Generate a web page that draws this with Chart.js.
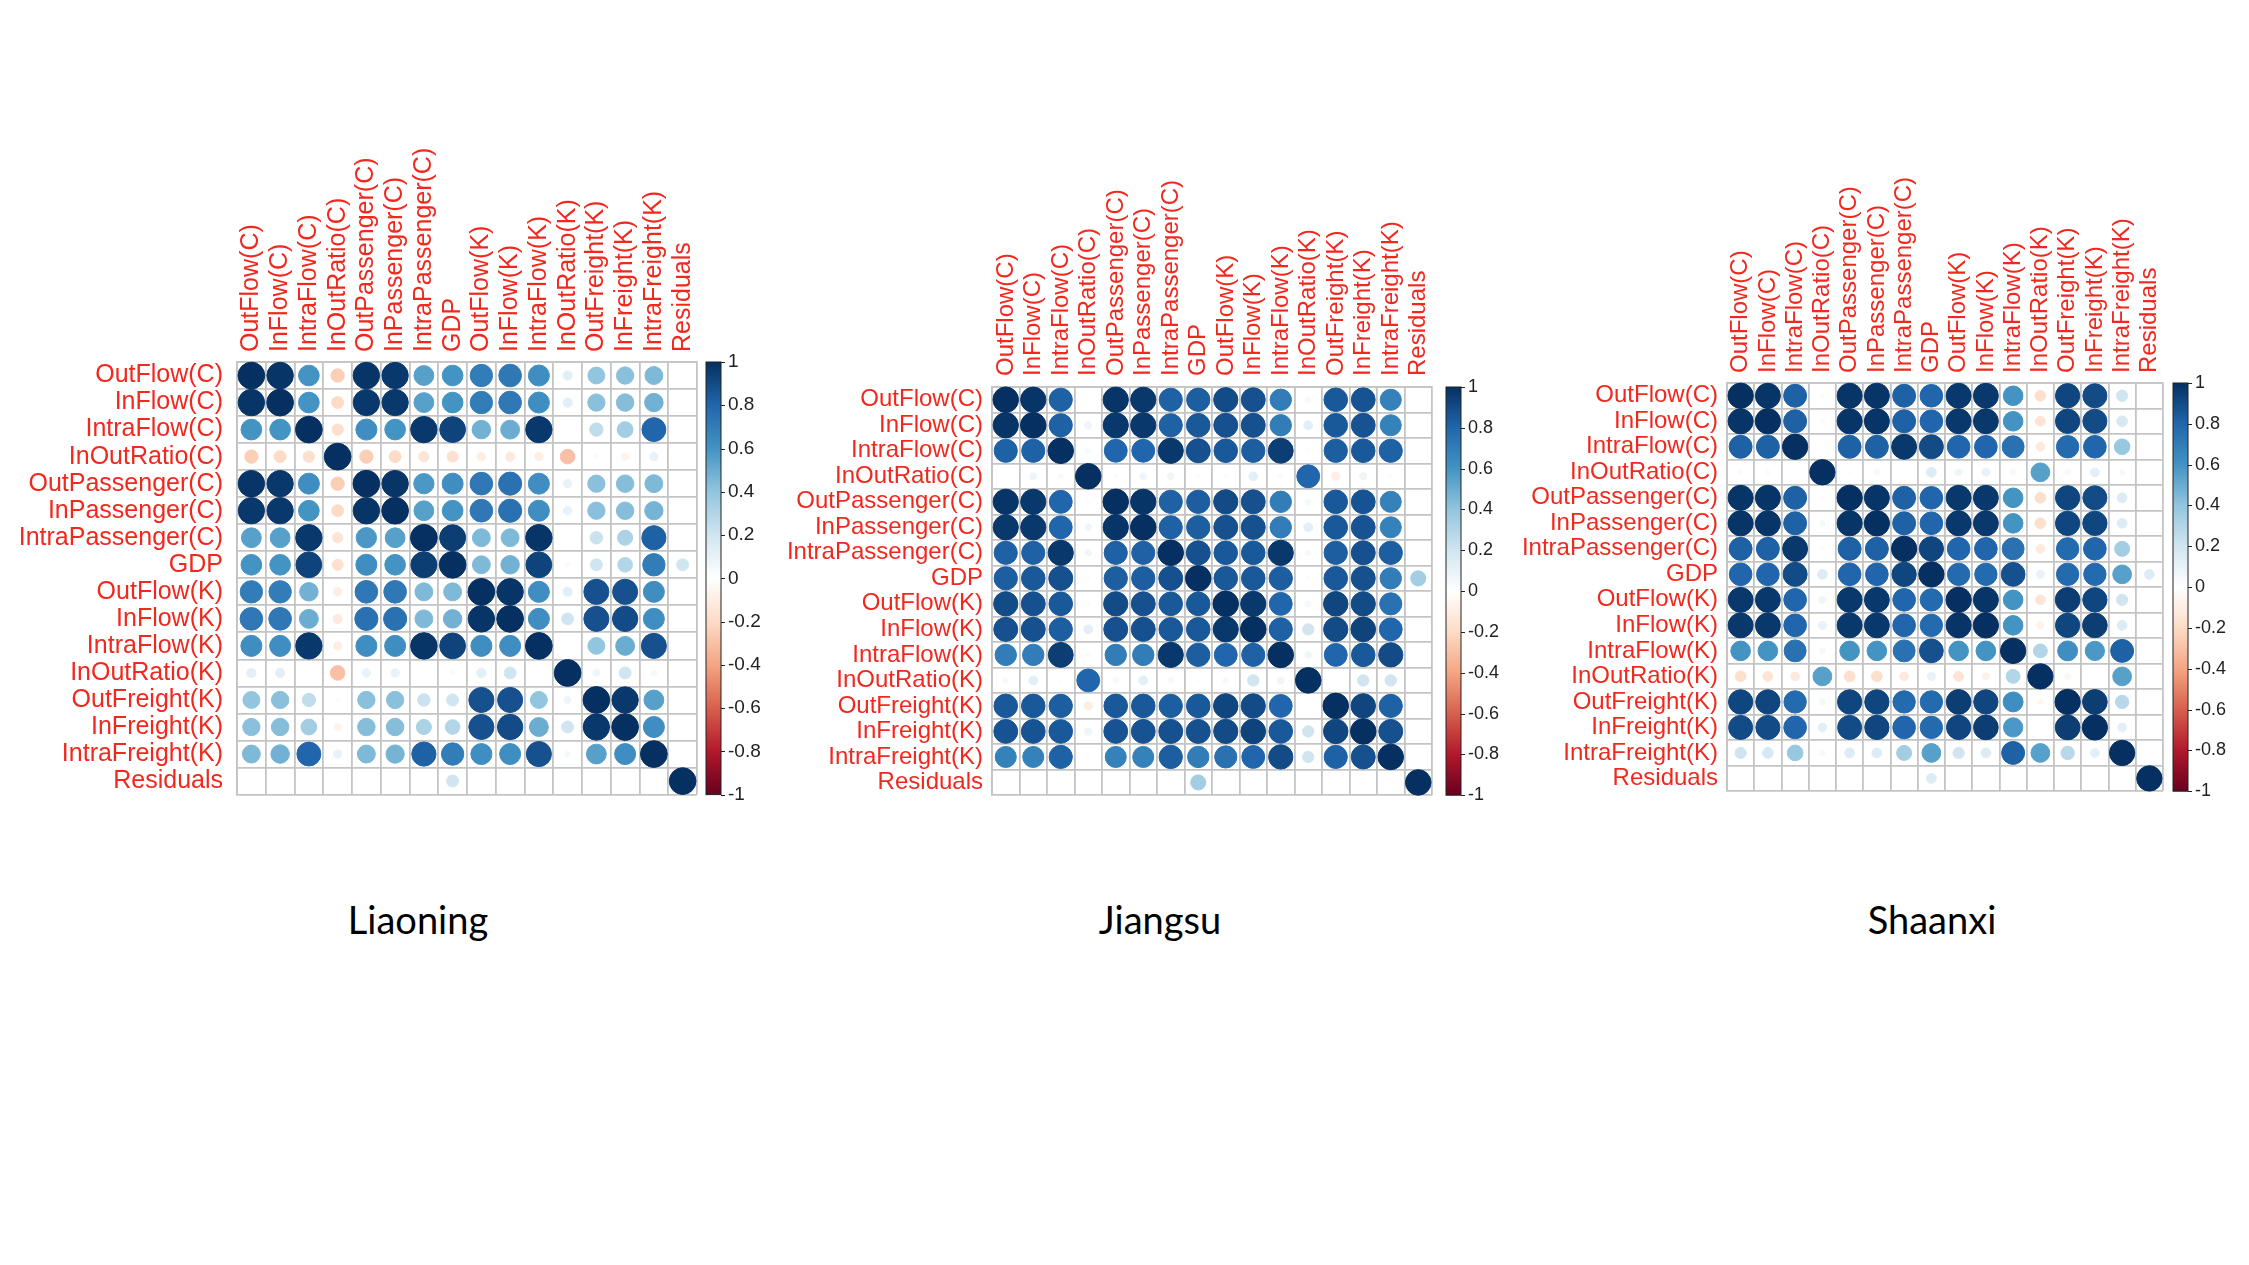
<!DOCTYPE html>
<html>
<head>
<meta charset="utf-8">
<title>Correlation matrices</title>
<script src="https://cdn.jsdelivr.net/npm/chart.js@4.4.0/dist/chart.umd.min.js"></script>
<style>
    html, body { margin: 0; padding: 0; background: #fff; }
    body { width: 2249px; height: 1265px; position: relative; overflow: hidden; }
    .panel { position: absolute; }
    .title {
        position: absolute;
        font-family: Lato, "Open Sans", sans-serif;
        font-size: 38px;
        line-height: 1.2;
        color: #000;
        transform: translateX(-50%);
        white-space: nowrap;
    }
</style>
</head>
<body>
<div class="panel" style="left:10px; top:120px"><canvas id="liaoningChart" width="767" height="717"></canvas></div>
<div class="panel" style="left:770px; top:150px"><canvas id="jiangsuChart" width="742" height="692"></canvas></div>
<div class="panel" style="left:1500px; top:140px"><canvas id="shaanxiChart" width="743" height="694"></canvas></div>
<div class="title" style="left:418px; top:897px">Liaoning</div>
<div class="title" style="left:1160px; top:897px">Jiangsu</div>
<div class="title" style="left:1932px; top:897px">Shaanxi</div>

<script>
// Variable names (rows and columns of every matrix)
const varNames = [
    'OutFlow(C)', 'InFlow(C)', 'IntraFlow(C)', 'InOutRatio(C)',
    'OutPassenger(C)', 'InPassenger(C)', 'IntraPassenger(C)', 'GDP',
    'OutFlow(K)', 'InFlow(K)', 'IntraFlow(K)', 'InOutRatio(K)',
    'OutFreight(K)', 'InFreight(K)', 'IntraFreight(K)', 'Residuals'
];

// Colour bar ticks
const colorBarTicks = [-1, -0.8, -0.6, -0.4, -0.2, 0, 0.2, 0.4, 0.6, 0.8, 1];

// Correlations
const liaoningCorr = [
    [1, 0.98, 0.6, -0.25, 0.98, 0.97, 0.55, 0.6, 0.7, 0.72, 0.62, 0.12, 0.4, 0.42, 0.45, 0],
    [0.98, 1, 0.6, -0.2, 0.97, 0.97, 0.55, 0.6, 0.7, 0.72, 0.62, 0.12, 0.42, 0.43, 0.48, 0],
    [0.6, 0.6, 1, -0.18, 0.62, 0.6, 0.97, 0.93, 0.48, 0.5, 0.97, 0, 0.25, 0.35, 0.8, 0],
    [-0.25, -0.2, -0.18, 1, -0.25, -0.2, -0.15, -0.17, -0.1, -0.12, -0.1, -0.3, -0.03, -0.07, 0.1, 0],
    [0.98, 0.97, 0.62, -0.25, 1, 0.98, 0.58, 0.62, 0.72, 0.75, 0.62, 0.1, 0.42, 0.43, 0.45, 0],
    [0.97, 0.97, 0.6, -0.2, 0.98, 1, 0.55, 0.6, 0.72, 0.75, 0.62, 0.1, 0.42, 0.43, 0.47, 0],
    [0.55, 0.55, 0.97, -0.15, 0.58, 0.55, 1, 0.95, 0.45, 0.45, 0.98, 0, 0.22, 0.32, 0.82, 0],
    [0.6, 0.6, 0.93, -0.17, 0.62, 0.6, 0.95, 1, 0.45, 0.48, 0.93, 0.03, 0.2, 0.3, 0.7, 0.2],
    [0.7, 0.7, 0.48, -0.1, 0.72, 0.72, 0.45, 0.45, 1, 0.98, 0.62, 0.12, 0.88, 0.88, 0.62, 0],
    [0.72, 0.72, 0.5, -0.12, 0.75, 0.75, 0.45, 0.48, 0.98, 1, 0.62, 0.2, 0.88, 0.9, 0.62, 0],
    [0.62, 0.62, 0.97, -0.1, 0.62, 0.62, 0.98, 0.93, 0.62, 0.62, 1, 0, 0.4, 0.5, 0.88, 0],
    [0.12, 0.12, 0, -0.3, 0.1, 0.1, 0, 0.03, 0.12, 0.2, 0, 1, 0.07, 0.2, 0.05, 0],
    [0.4, 0.42, 0.25, -0.03, 0.42, 0.42, 0.22, 0.2, 0.88, 0.88, 0.4, 0.07, 1, 0.97, 0.55, 0],
    [0.42, 0.43, 0.35, -0.07, 0.43, 0.43, 0.32, 0.3, 0.88, 0.9, 0.5, 0.2, 0.97, 1, 0.62, 0],
    [0.45, 0.48, 0.8, 0.1, 0.45, 0.47, 0.82, 0.7, 0.62, 0.62, 0.88, 0.05, 0.55, 0.62, 1, 0],
    [0, 0, 0, 0, 0, 0, 0, 0.2, 0, 0, 0, 0, 0, 0, 0, 1]
];

const jiangsuCorr = [
    [1, 0.98, 0.82, 0, 0.98, 0.97, 0.82, 0.83, 0.9, 0.88, 0.7, 0.05, 0.85, 0.87, 0.68, 0],
    [0.98, 1, 0.82, 0.08, 0.97, 0.97, 0.82, 0.85, 0.88, 0.88, 0.7, 0.12, 0.85, 0.87, 0.68, 0],
    [0.82, 0.82, 1, 0.04, 0.8, 0.8, 0.97, 0.88, 0.85, 0.83, 0.95, 0.02, 0.83, 0.85, 0.82, 0],
    [0, 0.08, 0.04, 1, 0.02, 0.07, 0.07, 0.02, 0.02, 0.12, 0.03, 0.8, -0.1, 0.08, 0.02, 0],
    [0.98, 0.97, 0.8, 0.02, 1, 0.98, 0.82, 0.83, 0.9, 0.88, 0.7, 0.05, 0.85, 0.87, 0.68, 0],
    [0.97, 0.97, 0.8, 0.07, 0.98, 1, 0.82, 0.83, 0.88, 0.88, 0.7, 0.12, 0.85, 0.87, 0.68, 0],
    [0.82, 0.82, 0.97, 0.07, 0.82, 0.82, 1, 0.88, 0.85, 0.85, 0.97, 0.05, 0.83, 0.88, 0.83, 0],
    [0.83, 0.85, 0.88, 0.02, 0.83, 0.83, 0.88, 1, 0.85, 0.85, 0.83, 0.02, 0.85, 0.88, 0.7, 0.35],
    [0.9, 0.88, 0.85, 0.02, 0.9, 0.88, 0.85, 0.85, 1, 0.97, 0.8, 0.05, 0.92, 0.9, 0.75, 0],
    [0.88, 0.88, 0.83, 0.12, 0.88, 0.88, 0.85, 0.85, 0.97, 1, 0.82, 0.2, 0.9, 0.93, 0.8, 0],
    [0.7, 0.7, 0.95, 0.03, 0.7, 0.7, 0.97, 0.83, 0.8, 0.82, 1, 0.07, 0.8, 0.85, 0.9, 0],
    [0.05, 0.12, 0.02, 0.8, 0.05, 0.12, 0.05, 0.02, 0.05, 0.2, 0.07, 1, 0, 0.2, 0.2, 0],
    [0.85, 0.85, 0.83, -0.1, 0.85, 0.85, 0.83, 0.85, 0.92, 0.9, 0.8, 0, 1, 0.92, 0.82, 0],
    [0.87, 0.87, 0.85, 0.08, 0.87, 0.87, 0.88, 0.88, 0.9, 0.93, 0.85, 0.2, 0.92, 1, 0.88, 0],
    [0.68, 0.68, 0.82, 0.02, 0.68, 0.68, 0.83, 0.7, 0.75, 0.8, 0.9, 0.2, 0.82, 0.88, 1, 0],
    [0, 0, 0, 0, 0, 0, 0, 0.35, 0, 0, 0, 0, 0, 0, 0, 1]
];

const shaanxiCorr = [
    [1, 0.98, 0.82, 0.03, 0.98, 0.98, 0.82, 0.8, 0.97, 0.97, 0.6, -0.18, 0.92, 0.9, 0.2, 0],
    [0.98, 1, 0.82, 0.03, 0.98, 0.98, 0.82, 0.8, 0.97, 0.97, 0.6, -0.15, 0.92, 0.9, 0.18, 0],
    [0.82, 0.82, 1, 0, 0.82, 0.82, 0.97, 0.9, 0.8, 0.8, 0.75, -0.12, 0.78, 0.8, 0.38, 0],
    [0.03, 0.03, 0, 1, 0.02, 0.05, 0.02, 0.15, 0.07, 0.1, 0.05, 0.55, 0.05, 0.12, 0.05, 0],
    [0.98, 0.98, 0.82, 0.02, 1, 0.98, 0.82, 0.8, 0.97, 0.97, 0.6, -0.18, 0.92, 0.9, 0.15, 0],
    [0.98, 0.98, 0.82, 0.05, 0.98, 1, 0.82, 0.8, 0.97, 0.97, 0.6, -0.18, 0.92, 0.92, 0.15, 0],
    [0.82, 0.82, 0.97, 0.02, 0.82, 0.82, 1, 0.92, 0.8, 0.8, 0.75, -0.12, 0.78, 0.8, 0.35, 0],
    [0.8, 0.8, 0.9, 0.15, 0.8, 0.8, 0.92, 1, 0.78, 0.78, 0.88, 0.1, 0.78, 0.78, 0.55, 0.15],
    [0.97, 0.97, 0.8, 0.07, 0.97, 0.97, 0.8, 0.78, 1, 0.98, 0.6, -0.15, 0.95, 0.92, 0.2, 0],
    [0.97, 0.97, 0.8, 0.1, 0.97, 0.97, 0.8, 0.78, 0.98, 1, 0.6, -0.08, 0.92, 0.95, 0.15, 0],
    [0.6, 0.6, 0.75, 0.05, 0.6, 0.6, 0.75, 0.88, 0.6, 0.6, 1, 0.3, 0.62, 0.58, 0.82, 0],
    [-0.18, -0.15, -0.12, 0.55, -0.18, -0.18, -0.12, 0.1, -0.15, -0.08, 0.3, 1, -0.05, 0, 0.55, 0],
    [0.92, 0.92, 0.78, 0.05, 0.92, 0.92, 0.78, 0.78, 0.95, 0.92, 0.62, -0.05, 1, 0.95, 0.28, 0],
    [0.9, 0.9, 0.8, 0.12, 0.9, 0.92, 0.8, 0.78, 0.92, 0.95, 0.58, 0, 0.95, 1, 0.12, 0],
    [0.2, 0.18, 0.38, 0.05, 0.15, 0.15, 0.35, 0.55, 0.2, 0.15, 0.82, 0.55, 0.28, 0.12, 1, 0],
    [0, 0, 0, 0, 0, 0, 0, 0.15, 0, 0, 0, 0, 0, 0, 0, 1]
];

// RdBu palette, from -1 to 1
const palette = ['#67001F', '#B2182B', '#D6604D', '#F4A582', '#FDDBC7', '#FFFFFF',
                 '#D1E5F0', '#92C5DE', '#4393C3', '#2166AC', '#053061'];

const labelColor = '#f0281e';
const gridColor = '#c4c4c4';
const labelFont = '"Liberation Sans", Arial, sans-serif';

function hexToRgb(h) {
    return [parseInt(h.slice(1, 3), 16), parseInt(h.slice(3, 5), 16), parseInt(h.slice(5, 7), 16)];
}

function corrColor(v) {
    const t = (Math.max(-1, Math.min(1, v)) + 1) / 2 * (palette.length - 1);
    const i = Math.min(Math.floor(t), palette.length - 2);
    const f = t - i;
    const a = hexToRgb(palette[i]), b = hexToRgb(palette[i + 1]);
    const c = a.map((x, k) => Math.round(x + (b[k] - x) * f));
    return `rgb(${c[0]},${c[1]},${c[2]})`;
}

// Draws the colour legend next to the matrix, positioned by the 'cb' scale
const colorBarPlugin = {
    id: 'colorBar',
    afterDraw(chart, args, opts) {
        const s = chart.scales.cb;
        const ctx = chart.ctx;
        const x0 = chart.chartArea.right + opts.gap;
        const top = s.getPixelForValue(1);
        const bottom = s.getPixelForValue(-1);
        const grad = ctx.createLinearGradient(0, bottom, 0, top);
        palette.forEach((c, k) => grad.addColorStop(k / (palette.length - 1), c));
        ctx.save();
        ctx.fillStyle = grad;
        ctx.fillRect(x0, top, opts.width, bottom - top);
        ctx.strokeStyle = '#222';
        ctx.lineWidth = 1;
        ctx.strokeRect(x0, top, opts.width, bottom - top);
        ctx.beginPath();
        colorBarTicks.forEach(t => {
            const y = Math.round(s.getPixelForValue(t)) + 0.5;
            ctx.moveTo(x0 + opts.width, y);
            ctx.lineTo(x0 + opts.width + 4, y);
        });
        ctx.stroke();
        ctx.restore();
    }
};

function buildChart(canvasId, matrix, layout) {
    const points = [];
    matrix.forEach((row, i) => {
        row.forEach((v, j) => points.push({ x: varNames[j], y: varNames[i], v: v }));
    });

    const radius = (ctx) => {
        if (!ctx.raw) return 0;
        const xs = ctx.chart.scales.x;
        const cell = xs.width / varNames.length;
        return cell * 0.465 * Math.sqrt(Math.abs(ctx.raw.v));
    };
    const color = (ctx) => ctx.raw ? corrColor(ctx.raw.v) : 'rgba(0,0,0,0)';

    const tickFont = { family: labelFont, size: layout.labelSize };

    return new Chart(document.getElementById(canvasId), {
        type: 'scatter',
        data: {
            datasets: [{
                data: points,
                pointRadius: radius,
                pointHoverRadius: radius,
                pointBackgroundColor: color,
                pointBorderColor: color,
                pointBorderWidth: 1
            }]
        },
        options: {
            responsive: false,
            animation: false,
            events: [],
            layout: { padding: { bottom: 15 } },
            plugins: {
                legend: { display: false },
                tooltip: { enabled: false },
                colorBar: { gap: layout.cbGap, width: 15 }
            },
            scales: {
                x: {
                    type: 'category',
                    labels: varNames,
                    position: 'top',
                    offset: true,
                    grid: { offset: true, color: gridColor, lineWidth: 1.8, drawTicks: false },
                    border: { display: true, color: gridColor, width: 1.8 },
                    ticks: {
                        autoSkip: false, minRotation: 90, maxRotation: 90,
                        labelOffset: Math.round(layout.labelSize * 1.2),
                        padding: layout.xPad, color: labelColor, font: tickFont
                    },
                    afterFit: (s) => { s.height = layout.xAxisH; }
                },
                y: {
                    type: 'category',
                    labels: varNames,
                    position: 'left',
                    offset: true,
                    grid: { offset: true, color: gridColor, lineWidth: 1.8, drawTicks: false },
                    border: { display: true, color: gridColor, width: 1.8 },
                    ticks: { autoSkip: false, padding: layout.yPad, color: labelColor, font: tickFont },
                    afterFit: (s) => { s.width = layout.yAxisW; }
                },
                cb: {
                    type: 'linear',
                    position: 'right',
                    min: -1,
                    max: 1,
                    grid: { display: false, drawTicks: false },
                    border: { display: false },
                    ticks: {
                        stepSize: 0.2,
                        padding: layout.cbGap + 15 + 7,
                        color: '#222',
                        font: { family: labelFont, size: layout.cbSize },
                        callback: (v) => String(Math.round(v * 10) / 10)
                    },
                    afterFit: (s) => { s.width = layout.cbW; }
                }
            }
        },
        plugins: [colorBarPlugin]
    });
}

document.addEventListener('DOMContentLoaded', () => {
    buildChart('liaoningChart', liaoningCorr,
        { yAxisW: 227, xAxisH: 242, cbW: 80, cbGap: 9, labelSize: 25, cbSize: 19, xPad: 10, yPad: 14 });
    buildChart('jiangsuChart', jiangsuCorr,
        { yAxisW: 222, xAxisH: 237, cbW: 80, cbGap: 14, labelSize: 24, cbSize: 18, xPad: 11, yPad: 9 });
    buildChart('shaanxiChart', shaanxiCorr,
        { yAxisW: 227, xAxisH: 243, cbW: 80, cbGap: 10, labelSize: 24, cbSize: 18, xPad: 10, yPad: 9 });
});
</script>
</body>
</html>
